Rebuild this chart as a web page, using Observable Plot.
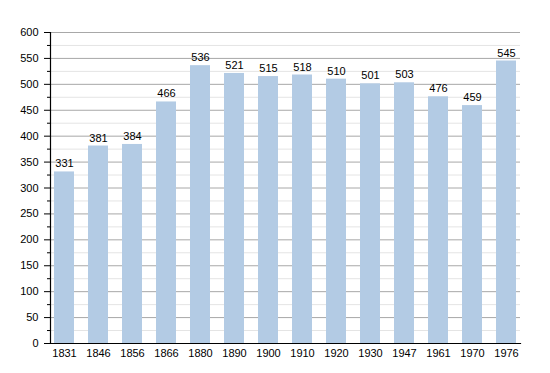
<!DOCTYPE html>
<html><head><meta charset="utf-8">
<script src="https://cdn.jsdelivr.net/npm/d3@7"></script>
<script src="https://cdn.jsdelivr.net/npm/@observablehq/plot@0.6"></script>
<style>body{margin:0;background:#fff;} svg{font-family:"Liberation Sans",Arial,sans-serif;}</style>
</head><body><div id="chart"></div>
<script>
const years = ["1831","1846","1856","1866","1880","1890","1900","1910","1920","1930","1947","1961","1970","1976"];
const population = [331,381,384,466,536,521,515,518,510,501,503,476,459,545];
const majorTicks = [0,50,100,150,200,250,300,350,400,450,500,550,600];
const minorTicks = [25,75,125,175,225,275,325,375,425,475,525,575];

const data = years.map((y,i)=>({year:y, value:population[i]}));

const chart = Plot.plot({
  width: 550, height: 373,
  marginLeft: 50, marginRight: 30, marginTop: 32, marginBottom: 30,
  style: {fontSize: "11px", fontFamily: "Liberation Sans, Arial, sans-serif", background: "#fff"},
  x: {domain: years, paddingInner: 0.42, paddingOuter: 0.03, label: null},
  y: {domain: [0,600], label: null},
  marks: [
    Plot.ruleY(minorTicks, {stroke: "#e4e4e4", strokeWidth: 1}),
    Plot.ruleY(majorTicks, {stroke: "#a8a8a8", strokeWidth: 1}),
    Plot.barY(data, {x: "year", y: "value", fill: "#b3cbe4"}),
    Plot.text(data, {x: "year", y: "value", text: d => String(d.value), dy: -8, fill: "#000", fontSize: 11}),
    Plot.axisY(majorTicks, {tickSize: 6, tickPadding: 6, stroke: "#000", fill: "#000", label: null}),
    Plot.axisY(minorTicks, {tickSize: 3, tickFormat: () => "", stroke: "#000", label: null}),
    Plot.axisX({tickSize: 0, tickPadding: 6, fill: "#000", label: null}),
    Plot.frame({anchor: "left", stroke: "#000", strokeWidth: 1.2}),
    Plot.frame({anchor: "bottom", stroke: "#000", strokeWidth: 1.2})
  ]
});
document.getElementById("chart").appendChild(chart);
</script>
</body></html>
